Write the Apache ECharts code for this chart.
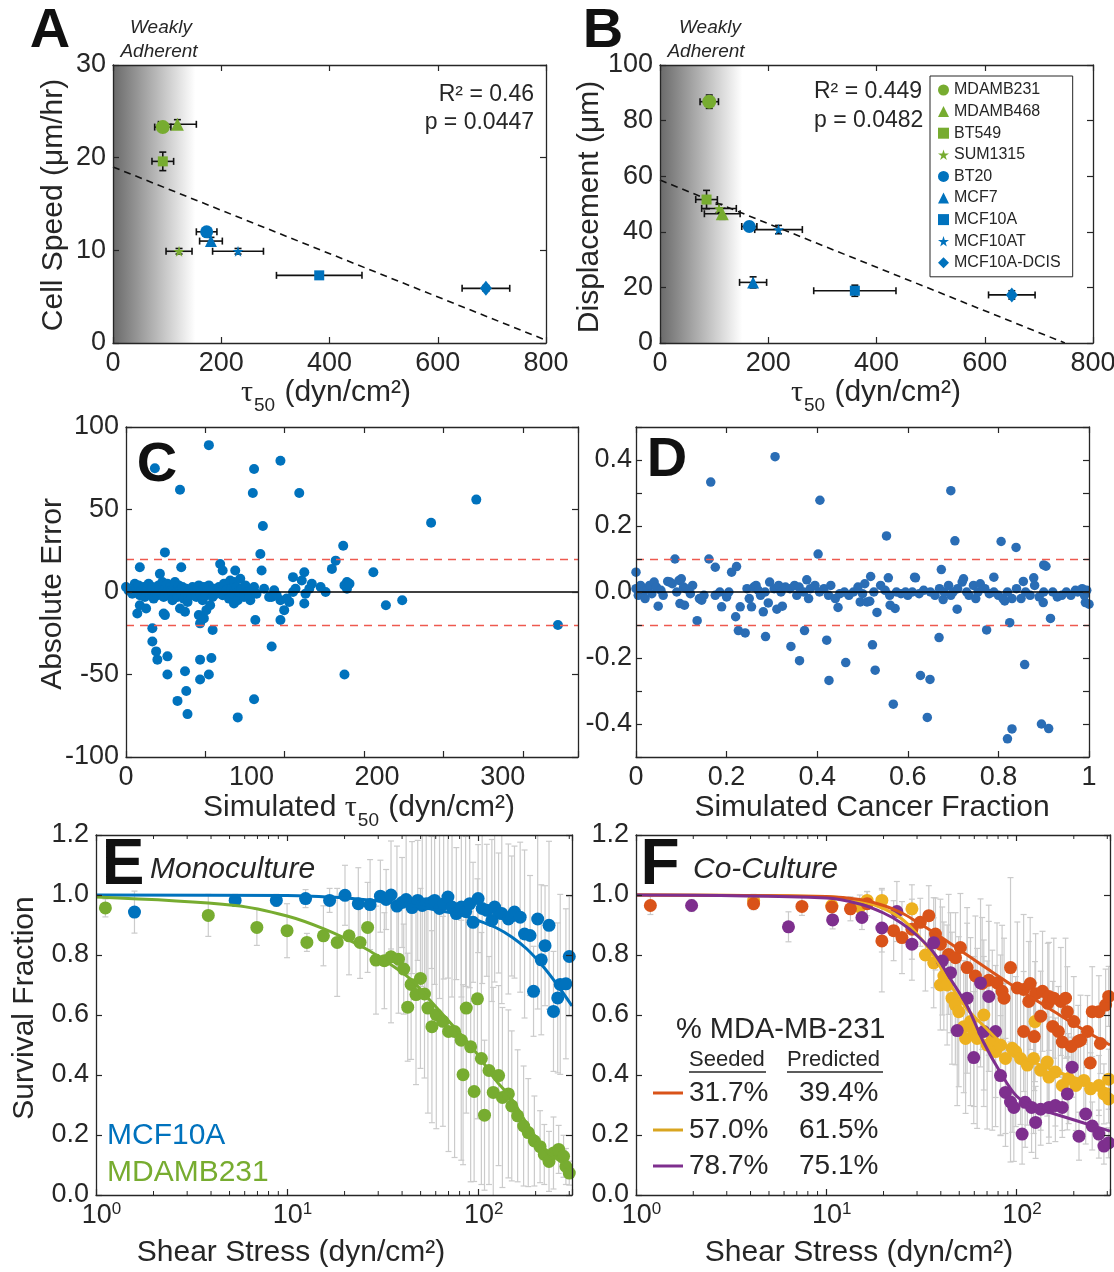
<!DOCTYPE html>
<html>
<head>
<meta charset="utf-8">
<script src="https://cdn.jsdelivr.net/npm/echarts@6/dist/echarts.min.js"></script>
<style>
  html, body { margin: 0; padding: 0; background: #fff; }
  #chart { width: 1114px; height: 1272px; }
</style>
</head>
<body>
<div id="chart"></div>
<script>
// ---------- Panels A / B: migration vs. adhesion strength per cell line ----------
const cellLines = ['MDAMB231', 'MDAMB468', 'BT549', 'SUM1315', 'BT20', 'MCF7', 'MCF10A', 'MCF10AT', 'MCF10A-DCIS'];
const tauA      = [92, 119, 92, 122, 173, 181, 381, 231, 689];
const tauErrA   = [15, 35, 20, 24, 19, 21, 79, 47, 44];
const speedA    = [23.3, 23.6, 19.6, 9.9, 12.0, 11.0, 7.3, 9.9, 5.9];
const speedErrA = [0.4, 0.5, 1.0, 0.3, 0.4, 0.4, 0.3, 0.3, 0.3];
const tauB      = [91, 115, 86, 109, 165, 172, 360, 219, 650];
const tauErrB   = [17, 33, 20, 32, 14, 25, 76, 44, 43];
const dispB     = [86.8, 46.5, 51.6, 48.4, 41.9, 21.8, 18.8, 40.8, 17.3];
const dispErrB  = [2.4, 2.0, 3.3, 1.5, 1.5, 2.0, 2.0, 1.5, 1.5];
const fitA = [[0, 19.0], [800, 0.3]];
const fitB = [[0, 58.6], [748, 0]];
const statsA = ['R\u00B2 = 0.46', 'p = 0.0447'];
const statsB = ['R\u00B2 = 0.449', 'p = 0.0482'];
const weakLimit = 152;   // upper edge of the weakly adherent band (dyn/cm2)

// ---------- Panel C: absolute error of simulated tau50 ----------
const cPoints = [
  [23,75],[66,89],[43,62],[102,74.5],[123,79.5],[101,60],[138,60],[109,40],[279,56],[243,42],
  [173,28],[31,24],[107,23],[167,19],[164,14],[108,13],[197,12],[11,15],[75,17],[77,13],
  [87,13],[44,15],[27,11],[159,0],[148,5],[142,12],[133,9],[176,6],[174,4],
  [344,-20],[174,-50],[207,-8],[220,-5],[142,-7],[126,-11],[123,-17],[103,-17],[116,-33],[102,-65],
  [89,-76],[69,-23],[68,-40],[66,-50],[59,-41],[59,-53],[48,-60],[49,-74],[41,-66],[47,-48],
  [33,-39],[33,-50],[25,-41],[24,-36],[21,-30],[21,-22],[31,-14],[30,-13],[9,-13],[16,-10],
  [11,-8],[43,-10],[47,-12],[58,-14],[59,-19],[62,-16],[64,-11],[86,-7],[99,-5],[116,-3],[123,-5],
  [0,3],[2,1],[5,-1],[7,5],[8,2],[10,4],[11,-2],[12,1],[14,3],[15,-3],
  [16,0],[17,2],[18,5],[19,-1],[20,1],[21,3],[22,-4],[23,0],[24,2],[25,-2],
  [26,4],[27,1],[28,-1],[29,6],[30,-3],[31,2],[32,0],[33,5],[34,-2],[35,3],
  [36,1],[37,-5],[38,2],[39,6],[40,0],[41,-3],[42,4],[43,1],[44,-1],[45,3],
  [46,-4],[47,0],[48,2],[49,-6],[50,1],
  [52,-2],[53,3],[55,0],[56,-3],[57,2],[58,4],[59,-1],[60,1],[61,-5],[62,3],
  [63,0],[64,-2],[65,2],[66,4],[67,-8],[68,1],[69,-3],[70,2],
  [72,-1],[74,3],[75,0],[77,-2],[78,5],[80,1],[82,-4],[83,7],[84,2],[85,-1],
  [86,6],[88,3],[89,-5],[90,0],[91,8],[92,2],[94,-3],[95,4],[97,0],[98,-2],[100,1],
  [102,3],[104,-1],[110,2],[114,-3],[118,1],[120,-2],[128,-4],[130,-6],[133,0],[135,2],
  [140,7],[143,-1],[146,2],[155,3],[176,2],[178,5]
];
const cBand = 20;

// ---------- Panel D: absolute error of simulated cancer fraction ----------
const dPoints = [
  [0.307,0.41],[0.165,0.333],[0.406,0.278],[0.695,0.307],[0.553,0.17],[0.704,0.155],[0.806,0.153],
  [0.839,0.135],[0.402,0.115],[0.161,0.10],[0.086,0.10],[0.175,0.075],[0.211,0.06],[0.222,0.077],
  [0.90,0.082],[0.905,0.078],[0.674,0.068],[0.0,0.06],[0.79,0.045],[0.878,0.043],[0.518,0.047],
  [0.557,0.043],[0.617,0.043],[0.377,0.037],[0.723,0.04],[0.855,0.032],[0.07,0.032],[0.1,0.04],
  [0.049,-0.043],[0.097,-0.035],[0.107,-0.04],[0.135,-0.087],[0.189,-0.045],[0.22,-0.075],[0.23,-0.045],
  [0.226,-0.117],[0.241,-0.124],[0.255,-0.045],[0.281,-0.06],[0.292,-0.033],[0.286,-0.135],[0.311,-0.052],
  [0.323,-0.043],[0.342,-0.165],[0.361,-0.208],[0.372,-0.117],[0.381,-0.02],[0.421,-0.146],[0.426,-0.268],
  [0.446,-0.047],[0.463,-0.214],[0.495,-0.03],[0.516,-0.028],[0.522,-0.16],[0.528,-0.237],[0.532,-0.062],
  [0.568,-0.34],[0.572,-0.05],[0.561,-0.04],[0.628,-0.253],[0.649,-0.265],[0.643,-0.38],[0.669,-0.138],
  [0.678,-0.023],[0.709,-0.052],[0.774,-0.115],[0.814,-0.027],[0.825,-0.093],[0.82,-0.445],[0.83,-0.415],
  [0.858,-0.22],[0.895,-0.40],[0.911,-0.414],[0.915,-0.08],[0.899,-0.032],[1.0,-0.037],[0.992,-0.032],
  [0.0,0.01],[0.005,-0.01],[0.01,0.02],[0.015,0.0],[0.02,-0.02],[0.025,0.01],[0.03,0.02],[0.035,-0.005],
  [0.04,0.03],[0.045,0.015],[0.055,0.005],[0.06,-0.01],[0.075,0.03],[0.08,0.025],[0.09,0.0],[0.095,0.035],
  [0.105,0.015],[0.11,0.01],[0.12,-0.005],[0.125,0.02],[0.14,-0.02],[0.145,-0.025],[0.15,-0.01],[0.175,-0.01],
  [0.185,0.0],[0.2,-0.015],[0.205,0.0],[0.245,0.01],[0.25,-0.02],[0.26,0.015],[0.265,0.02],[0.27,0.005],
  [0.275,-0.01],[0.285,0.0],[0.295,0.03],[0.305,0.01],[0.315,0.02],[0.32,0.0],[0.33,0.015],[0.34,0.01],
  [0.35,0.02],[0.355,-0.01],[0.36,0.015],[0.37,0.0],[0.385,0.01],[0.395,0.02],[0.405,0.0],[0.415,0.01],
  [0.425,-0.01],[0.43,0.02],[0.44,-0.02],[0.45,-0.005],[0.46,0.0],[0.47,-0.01],[0.48,0.0],[0.49,0.015],
  [0.5,-0.005],[0.505,0.025],[0.51,-0.03],[0.525,0.0],[0.54,0.02],[0.55,0.005],[0.56,-0.01],[0.575,0.0],
  [0.585,-0.005],[0.595,0.0],[0.6,-0.01],[0.61,0.0],[0.615,0.045],[0.625,-0.005],[0.635,0.005],[0.65,0.0],
  [0.66,-0.01],[0.67,0.01],[0.68,0.0],[0.69,0.02],[0.695,-0.01],[0.7,0.0],[0.71,0.01],[0.72,0.03],
  [0.73,0.0],[0.735,-0.01],[0.745,0.02],[0.75,-0.02],[0.755,0.0],[0.76,0.025],[0.77,0.01],[0.78,-0.005],
  [0.79,0.0],[0.8,-0.01],[0.81,-0.02],[0.82,0.0],[0.83,-0.02],[0.84,0.01],[0.85,-0.02],[0.86,0.0],
  [0.87,-0.01],[0.88,0.02],[0.89,-0.015],[0.9,0.0],[0.92,0.0],[0.93,-0.015],[0.94,-0.01],[0.95,0.0],
  [0.96,-0.01],[0.97,0.005],[0.975,0.0],[0.985,0.01],[0.99,-0.01],[0.995,0.005]
];
const dBand = 0.1;

// ---------- Panel E: monoculture survival [shear, fraction, sd] ----------
const eMcf10a = [
  [1.59,0.943,0.07],[5.35,0.982,0.02],[8.79,0.982,0.02],[12.5,0.988,0.03],[16.7,0.982,0.04],[20.1,0.999,0.1],
  [23.6,0.971,0.12],[27.2,0.968,0.15],[30.8,0.996,0.12],[33,0.985,0.1],[35,1.0,0.18],[37.6,0.963,0.2],
  [40,0.975,0.15],[42,0.985,0.25],[45.1,0.958,0.22],[48.3,0.982,0.2],[51,0.965,0.27],[53.5,0.971,0.3],
  [57,0.975,0.22],[59.2,0.982,0.28],[62.8,0.955,0.3],[66,0.97,0.25],[69.5,0.993,0.27],[73,0.96,0.3],
  [76.9,0.938,0.22],[81.7,0.96,0.3],[86,0.945,0.25],[90.4,0.971,0.28],[94.1,0.909,0.2],[100,0.988,0.18],
  [105,0.955,0.25],[111,0.949,0.22],[118,0.915,0.27],[122,0.96,0.25],[128,0.94,0.2],[133,0.938,0.3],
  [144,0.92,0.25],[150,0.93,0.2],[155,0.943,0.22],[166,0.926,0.25],[175,0.87,0.28],[187,0.865,0.2],
  [195,0.679,0.15],[205,0.92,0.3],[214,0.784,0.25],[224,0.831,0.2],[235,0.899,0.28],[248,0.612,0.2],
  [261,0.657,0.25],[269,0.702,0.3],[288,0.704,0.25],[300,0.795,0.2]
];
const eMdamb231 = [
  [1.12,0.957,0.03],[3.87,0.932,0.07],[6.95,0.892,0.06],[10,0.881,0.09],[12.7,0.842,0.03],[15.5,0.864,0.1],
  [18.3,0.842,0.18],[21.1,0.864,0.13],[24.1,0.842,0.12],[26.4,0.892,0.15],[29.2,0.783,0.18],[32.3,0.781,0.16],
  [35,0.794,0.22],[38.3,0.786,0.18],[40.8,0.753,0.15],[42.8,0.626,0.18],[44.6,0.702,0.25],[47.3,0.668,0.3],
  [49.9,0.722,0.3],[52.4,0.67,0.28],[54.6,0.623,0.35],[57.3,0.561,0.32],[60.4,0.601,0.38],[65.4,0.579,0.35],
  [70,0.545,0.4],[75.3,0.545,0.42],[81.6,0.516,0.4],[83.4,0.401,0.3],[86.7,0.623,0.35],[91.4,0.494,0.45],
  [95.3,0.345,0.3],[99.2,0.654,0.4],[104,0.455,0.42],[108,0.266,0.25],[114,0.415,0.38],[120,0.342,0.35],
  [128,0.398,0.3],[134,0.325,0.3],[144,0.337,0.28],[150,0.297,0.25],[161,0.264,0.22],[173,0.23,0.2],
  [183,0.208,0.18],[197,0.18,0.15],[211,0.161,0.12],[222,0.135,0.1],[235,0.112,0.1],[248,0.14,0.12],
  [264,0.152,0.08],[280,0.129,0.07],[288,0.095,0.06],[300,0.073,0.04]
];
const eMcf10aFit = [[1,1.0],[10,0.998],[20,0.99],[30,0.98],[45,0.965],[60,0.95],[80,0.935],[100,0.915],
  [125,0.89],[150,0.86],[180,0.82],[220,0.76],[260,0.7],[310,0.63]];
const eMdamb231Fit = [[1,0.993],[5.35,0.965],[10,0.93],[15.6,0.887],[24.3,0.83],[29.8,0.797],[44.6,0.718],
  [54.6,0.657],[66.8,0.595],[81.7,0.533],[100,0.466],[122,0.387],[150,0.32],[183,0.23],[224,0.152],
  [275,0.107],[310,0.08]];

// ---------- Panel F: co-culture survival [shear, fraction, sd] ----------
const fLow = [
  [1.19,0.965,0.03],[4.15,0.971,0.02],[7.45,0.962,0.03],[10.7,0.96,0.03],[13.4,0.954,0.04],[16.4,0.971,0.04],
  [19.6,0.847,0.17],[22.6,0.881,0.1],[25,0.858,0.12],[28.2,0.886,0.1],[31.2,0.909,0.08],[34.6,0.931,0.1],
  [37.5,0.87,0.12],[39.8,0.836,0.15],[44,0.802,0.2],[47.8,0.791,0.15],[50.7,0.825,0.18],[55,0.758,0.2],
  [60.8,0.73,0.2],[66,0.705,0.22],[71.5,0.716,0.25],[79,0.707,0.2],[84,0.679,0.22],[86,0.656,0.2],
  [93,0.758,0.3],[101,0.69,0.22],[109,0.685,0.25],[109,0.545,0.2],[116,0.645,0.2],[118,0.705,0.22],
  [124,0.528,0.18],[126,0.671,0.2],[134,0.596,0.15],[137,0.679,0.2],[146,0.639,0.2],[148,0.662,0.18],
  [155,0.562,0.15],[157,0.656,0.2],[166,0.545,0.15],[171,0.645,0.18],[174,0.51,0.15],[181,0.656,0.2],
  [185,0.611,0.15],[194,0.495,0.12],[200,0.578,0.15],[211,0.512,0.12],[217,0.516,0.15],[236,0.545,0.12],
  [244,0.44,0.1],[250,0.611,0.15],[271,0.611,0.12],[276,0.505,0.1],[294,0.633,0.12],[305,0.662,0.1]
];
const fMid = [
  [4.15,0.982,0.02],[10.7,0.965,0.03],[15,0.96,0.04],[16.4,0.982,0.03],[19.6,0.982,0.04],[28.2,0.954,0.08],
  [33.2,0.8,0.12],[36.7,0.774,0.15],[39.8,0.7,0.15],[41.5,0.73,0.18],[43.2,0.7,0.2],[45.8,0.656,0.22],
  [47.7,0.634,0.2],[49.7,0.611,0.25],[52.8,0.561,0.22],[54,0.522,0.25],[57.3,0.578,0.28],[59.7,0.545,0.25],
  [62.1,0.522,0.3],[67.3,0.6,0.25],[70.1,0.5,0.28],[74.6,0.516,0.3],[77.6,0.478,0.25],[82.4,0.5,0.3],
  [87.5,0.455,0.25],[94.9,0.489,0.28],[99,0.478,0.25],[105,0.455,0.22],[114,0.433,0.2],[123,0.455,0.25],
  [125,0.578,0.2],[134,0.416,0.2],[145,0.443,0.18],[148,0.393,0.2],[160,0.41,0.18],[174,0.365,0.15],
  [188,0.388,0.15],[205,0.365,0.15],[226,0.382,0.12],[245,0.354,0.12],[271,0.365,0.1],[288,0.337,0.1],
  [305,0.32,0.08],[305,0.386,0.1]
];
const fHigh = [
  [1.96,0.965,0.02],[6.33,0.894,0.05],[10.8,0.917,0.03],[15.4,0.925,0.04],[19.6,0.89,0.08],[23.5,0.945,0.1],
  [28.2,0.836,0.12],[36.7,0.841,0.15],[40.7,0.78,0.18],[45,0.741,0.2],[48.8,0.548,0.25],[55,0.656,0.25],
  [59.6,0.458,0.22],[64.7,0.707,0.28],[67.3,0.545,0.25],[71.5,0.662,0.25],[77.6,0.545,0.22],[82.4,0.398,0.2],
  [87.5,0.342,0.18],[93,0.31,0.2],[96.8,0.292,0.18],[107,0.203,0.1],[111,0.309,0.15],[120,0.292,0.15],
  [126,0.242,0.12],[134,0.286,0.12],[148,0.292,0.12],[160,0.298,0.12],[174,0.292,0.1],[185,0.337,0.12],
  [196,0.426,0.1],[213,0.196,0.08],[231,0.27,0.1],[250,0.23,0.08],[271,0.203,0.08],[288,0.163,0.06],
  [305,0.174,0.05]
];
const fLowFit  = [[1,1],[10,0.995],[15,0.985],[20,0.965],[25,0.94],[30,0.91],[40,0.86],[55,0.8],[70,0.755],
  [100,0.69],[150,0.62],[226,0.55],[310,0.5]];
const fMidFit  = [[1,1],[10,0.995],[15,0.98],[20,0.955],[25,0.92],[30,0.87],[36.5,0.8],[45,0.7],[55,0.62],
  [67,0.565],[82,0.51],[100,0.47],[150,0.42],[226,0.38],[310,0.35]];
const fHighFit = [[1,1],[10,0.99],[15,0.97],[20,0.94],[25,0.905],[30,0.865],[36.5,0.81],[45,0.72],[55,0.63],
  [67,0.51],[82,0.41],[100,0.33],[125,0.29],[150,0.275],[226,0.24],[310,0.213]];
const seededPct    = ['31.7%', '57.0%', '78.7%'];
const predictedPct = ['39.4%', '61.5%', '75.1%'];

// log-axis minor tick positions and extents
const logMinorTicks = [2,3,4,5,6,7,8,9,20,30,40,50,60,70,80,90,200,300];
const shearMax = 310;
const cTauMax = 360, cTickStep = 63.2;

// ---------- styling ----------
const FONT  = '"Liberation Sans", Arial, Helvetica, sans-serif';
const SERIF = '"Liberation Serif", "Times New Roman", serif';
const INK = '#262626';
const BLUE = '#0072BD', GREEN = '#77AC30', ORANGE = '#D95319', YELLOW = '#EDB120', PURPLE = '#7E2F8E';
const ERR_GRAY = '#cbcbcb';
const TICK_FS = 27, TITLE_FS = 30;
const lineColors = [GREEN, GREEN, GREEN, GREEN, BLUE, BLUE, BLUE, BLUE, BLUE];
const STAR = 'path://M50,0 L61,35 L98,35 L68,57 L79,91 L50,70 L21,91 L32,57 L2,35 L39,35 Z';
const lineSymbols = ['circle', 'triangle', 'rect', STAR, 'circle', 'triangle', 'rect', STAR, 'diamond'];
const lineSizes   = [14, 13, 10, 11, 13, 12, 10, 11, [12, 15]];

function isObj(o) { return o && typeof o === 'object' && !Array.isArray(o); }
function merge(a, b) {
  const out = Object.assign({}, a);
  for (const k in b) out[k] = isObj(a[k]) && isObj(b[k]) ? merge(a[k], b[k]) : b[k];
  return out;
}
function mkAxis(grid, position, extra) {
  const primary = position === 'bottom' || position === 'left';
  return merge({
    type: 'value', gridIndex: grid, position: position, z: 10,
    axisLine: { show: true, onZero: false, lineStyle: { color: INK, width: 1.3 } },
    axisTick: { show: true, inside: true, length: 6, lineStyle: { color: INK, width: 1.2 } },
    axisLabel: { show: primary, color: INK, fontFamily: FONT, fontSize: TICK_FS, margin: 7 },
    splitLine: { show: false }
  }, extra || {});
}
const oneDecimal = v => (Math.round(v * 10) / 10).toFixed(1);
const dFmt = v => { const k = Math.round(v * 10); return (k % 2 === 0 && Math.abs(k) < 5) ? oneDecimal(v) : ''; };
const logFmt = v => {
  const e = Math.round(Math.log10(v));
  return Math.abs(Math.log10(v) - e) < 1e-6 ? '{b|10}{e|' + e + '}' : '';
};
const logX = {
  type: 'log', logBase: 10, min: 1, max: shearMax,
  axisLabel: {
    formatter: logFmt, margin: 6,
    rich: {
      b: { fontFamily: FONT, fontSize: TICK_FS, color: INK, lineHeight: 30, padding: [0, 0, 0, 11] },
      e: { fontFamily: FONT, fontSize: 17, color: INK, padding: [0, 0, 13, 0] }
    }
  }
};

const grid = [
  { left: 113, top: 65,  width: 433, height: 278 },  // A
  { left: 660, top: 65,  width: 433, height: 278 },  // B
  { left: 126, top: 427, width: 452, height: 330 },  // C
  { left: 636, top: 427, width: 453, height: 330 },  // D
  { left: 96,  top: 835, width: 476, height: 360 },  // E
  { left: 636, top: 835, width: 474, height: 360 }   // F
].map(g => Object.assign({ containLabel: false, outerBoundsMode: 'none' }, g));

const xAxis = [
  mkAxis(0, 'bottom', { min: 0, max: 800, interval: 200 }),
  mkAxis(0, 'top',    { min: 0, max: 800, interval: 200 }),
  mkAxis(1, 'bottom', { min: 0, max: 800, interval: 200 }),
  mkAxis(1, 'top',    { min: 0, max: 800, interval: 200 }),
  mkAxis(2, 'bottom', { min: 0, max: cTauMax, interval: 100, axisTick: { show: false },
    axisLabel: { formatter: v => (Math.abs(v % 100) < 1e-9 ? String(v) : '') } }),
  mkAxis(2, 'top',    { min: 0, max: cTauMax, interval: cTickStep }),
  mkAxis(2, 'bottom', { min: 0, max: cTauMax, interval: cTickStep, axisLine: { show: false }, axisLabel: { show: false } }),
  mkAxis(3, 'bottom', { min: 0, max: 1, interval: 0.2 }),
  mkAxis(3, 'top',    { min: 0, max: 1, interval: 0.2 }),
  mkAxis(4, 'bottom', logX),
  mkAxis(4, 'top',    logX),
  mkAxis(5, 'bottom', logX),
  mkAxis(5, 'top',    logX)
];
const survY = { min: 0, max: 1.2, interval: 0.2, axisLabel: { formatter: oneDecimal } };
const yAxis = [
  mkAxis(0, 'left',  { min: 0, max: 30, interval: 10 }),
  mkAxis(0, 'right', { min: 0, max: 30, interval: 10 }),
  mkAxis(1, 'left',  { min: 0, max: 100, interval: 20 }),
  mkAxis(1, 'right', { min: 0, max: 100, interval: 20 }),
  mkAxis(2, 'left',  { min: -100, max: 100, interval: 50 }),
  mkAxis(2, 'right', { min: -100, max: 100, interval: 50 }),
  mkAxis(3, 'left',  { min: -0.5, max: 0.5, interval: 0.1, axisLabel: { formatter: dFmt, margin: 4 } }),
  mkAxis(3, 'right', { min: -0.5, max: 0.5, interval: 0.1 }),
  mkAxis(4, 'left',  survY),
  mkAxis(4, 'right', survY),
  mkAxis(5, 'left',  survY),
  mkAxis(5, 'right', survY)
];

// ---------- render helpers ----------
function xyErrRender(params, api) {
  const x = api.value(0), y = api.value(1), ex = api.value(2), ey = api.value(3);
  const l = api.coord([x - ex, y]), r = api.coord([x + ex, y]);
  const b = api.coord([x, y - ey]), t = api.coord([x, y + ey]);
  const c = 3.5, st = { stroke: '#111', lineWidth: 1.6 };
  const seg = (x1, y1, x2, y2) => ({ type: 'line', shape: { x1, y1, x2, y2 }, style: st });
  return { type: 'group', children: [
    seg(l[0], l[1], r[0], r[1]), seg(l[0], l[1] - c, l[0], l[1] + c), seg(r[0], r[1] - c, r[0], r[1] + c),
    seg(b[0], b[1], t[0], t[1]), seg(b[0] - c, b[1], b[0] + c, b[1]), seg(t[0] - c, t[1], t[0] + c, t[1])
  ] };
}
function yErrRender(params, api) {
  const x = api.value(0), y = api.value(1), s = api.value(2);
  const lo = api.coord([x, y - s]), hi = api.coord([x, y + s]);
  const c = 3, st = { stroke: ERR_GRAY, lineWidth: 1.2 };
  return { type: 'group', children: [
    { type: 'line', shape: { x1: lo[0], y1: lo[1], x2: hi[0], y2: hi[1] }, style: st },
    { type: 'line', shape: { x1: lo[0] - c, y1: lo[1], x2: lo[0] + c, y2: lo[1] }, style: st },
    { type: 'line', shape: { x1: hi[0] - c, y1: hi[1], x2: hi[0] + c, y2: hi[1] }, style: st }
  ] };
}
function minorTickRender(params, api) {
  const v = api.value(0);
  const b = api.coord([v, 0]), t = api.coord([v, 1.2]);
  const st = { stroke: INK, lineWidth: 1 };
  return { type: 'group', children: [
    { type: 'line', shape: { x1: b[0], y1: b[1], x2: b[0], y2: b[1] - 4 }, style: st },
    { type: 'line', shape: { x1: t[0], y1: t[1], x2: t[0], y2: t[1] + 4 }, style: st }
  ] };
}

const series = [];
const weakBand = {
  silent: true,
  itemStyle: { color: new echarts.graphic.LinearGradient(0, 0, 1, 0, [
    { offset: 0, color: '#6a6a6a' }, { offset: 0.5, color: '#b4b4b4' }, { offset: 1, color: '#ffffff' }]) },
  data: [[{ xAxis: 0 }, { xAxis: weakLimit }]]
};
// A and B share the same structure
[[0, 0, tauA, tauErrA, speedA, speedErrA, fitA], [2, 2, tauB, tauErrB, dispB, dispErrB, fitB]].forEach(p => {
  const [xi, yi, xs, xe, ys, ye, fit] = p;
  series.push({ type: 'line', name: 'fit', xAxisIndex: xi, yAxisIndex: yi, data: fit, symbol: 'none', z: 2,
    lineStyle: { color: '#111', width: 1.6, type: [7, 5] }, markArea: weakBand });
  series.push({ type: 'custom', name: 'err', xAxisIndex: xi, yAxisIndex: yi, z: 3, renderItem: xyErrRender,
    encode: { x: 0, y: 1 }, data: cellLines.map((_, i) => [xs[i], ys[i], xe[i], ye[i]]) });
  cellLines.forEach((name, i) => series.push({
    type: 'scatter', name, xAxisIndex: xi, yAxisIndex: yi, z: 4,
    symbol: lineSymbols[i], symbolSize: lineSizes[i], itemStyle: { color: lineColors[i], opacity: 1 },
    data: [[xs[i], ys[i]]]
  }));
});

const refLines = (band) => ({
  silent: true, symbol: ['none', 'none'], label: { show: false }, animation: false,
  data: [
    { yAxis: 0, lineStyle: { color: '#000', type: 'solid', width: 1.5 } },
    { yAxis: band, lineStyle: { color: '#EE5A4F', type: [8, 6], width: 1.3 } },
    { yAxis: -band, lineStyle: { color: '#EE5A4F', type: [8, 6], width: 1.3 } }
  ]
});
series.push({ type: 'line', name: 'c-ref', xAxisIndex: 4, yAxisIndex: 4, data: [], z: 2, markLine: refLines(cBand) });
series.push({ type: 'scatter', name: 'c-sim', xAxisIndex: 4, yAxisIndex: 4, data: cPoints, symbolSize: 10, z: 3,
  itemStyle: { color: BLUE, opacity: 1 } });
series.push({ type: 'line', name: 'd-ref', xAxisIndex: 7, yAxisIndex: 6, data: [], z: 2, markLine: refLines(dBand) });
series.push({ type: 'scatter', name: 'd-sim', xAxisIndex: 7, yAxisIndex: 6, data: dPoints, symbolSize: 9.5, z: 3,
  itemStyle: { color: '#2a6db5', opacity: 1 } });

// E and F survival panels
function survivalPanel(xi, yi, groups) {
  groups.forEach(g => series.push({ type: 'custom', name: g.name + '-sd', xAxisIndex: xi, yAxisIndex: yi, z: 2,
    clip: true, renderItem: yErrRender, encode: { x: 0, y: 1 }, data: g.pts }));
  groups.forEach(g => series.push({ type: 'scatter', name: g.name, xAxisIndex: xi, yAxisIndex: yi, z: 3,
    symbolSize: 13, itemStyle: { color: g.color, opacity: 1 }, data: g.pts.map(p => [p[0], p[1]]) }));
  groups.forEach(g => series.push({ type: 'line', name: g.name + '-fit', xAxisIndex: xi, yAxisIndex: yi, z: 4,
    smooth: 0.35, symbol: 'none', lineStyle: { color: g.color, width: 3 }, data: g.fit }));
  series.push({ type: 'custom', name: 'minor', xAxisIndex: xi, yAxisIndex: yi, z: 11, silent: true, clip: false,
    renderItem: minorTickRender, encode: { x: 0, y: 1 }, data: logMinorTicks.map(v => [v, 0]) });
}
survivalPanel(9, 8, [
  { name: 'MCF10A', color: BLUE, pts: eMcf10a, fit: eMcf10aFit },
  { name: 'MDAMB231 mono', color: GREEN, pts: eMdamb231, fit: eMdamb231Fit }
]);
survivalPanel(11, 10, [
  { name: 'mid', color: YELLOW, pts: fMid, fit: fMidFit },
  { name: 'low', color: ORANGE, pts: fLow, fit: fLowFit },
  { name: 'high', color: PURPLE, pts: fHigh, fit: fHighFit }
]);

// ---------- text ----------
const txt = (text, x, y, size, extra) => ({ type: 'text', x, y, z: 20,
  style: Object.assign({ text, fill: INK, fontFamily: FONT, fontSize: size, align: 'left', verticalAlign: 'middle' }, extra || {}) });
const letter = (t, x, y, size) => txt(t, x, y, size, { fill: '#111', fontWeight: 'bold', align: 'center' });
const vTitle = (t, x, y) => Object.assign(txt(t, x, y, TITLE_FS, { align: 'center' }), { rotation: Math.PI / 2 });
const tauRich = {
  t: { fontFamily: SERIF, fontSize: TITLE_FS, fill: INK, lineHeight: 34, verticalAlign: 'middle' },
  s: { fontFamily: FONT, fontSize: 19, fill: INK, padding: [26, 1, 0, 1], verticalAlign: 'middle' },
  n: { fontFamily: FONT, fontSize: TITLE_FS, fill: INK, lineHeight: 34, verticalAlign: 'middle' }
};
const tauTitle = (prefix, x, y) => txt((prefix ? '{n|' + prefix + '}' : '') + '{t|\u03C4}{s|50}{n| (dyn/cm\u00B2)}', x, y, TITLE_FS,
  { align: 'center', rich: tauRich });

const graphic = [
  letter('A', 50, 32, 56), letter('B', 603, 32, 56),
  letter('C', 157, 466, 56), letter('D', 667, 461, 56),
  letter('E', 123, 866, 64), letter('F', 660, 866, 64),
  txt('Weakly', 161, 28, 19, { align: 'center', fontStyle: 'italic' }),
  txt('Adherent', 159, 52, 19, { align: 'center', fontStyle: 'italic' }),
  txt('Weakly', 710, 28, 19, { align: 'center', fontStyle: 'italic' }),
  txt('Adherent', 706, 52, 19, { align: 'center', fontStyle: 'italic' }),
  txt(statsA[0], 534, 95, 23, { align: 'right' }), txt(statsA[1], 534, 123, 23, { align: 'right' }),
  txt(statsB[0], 814, 92, 23), txt(statsB[1], 814, 121, 23),
  vTitle('Cell Speed (\u03BCm/hr)', 54, 205),
  vTitle('Displacement (\u03BCm)', 590, 207),
  vTitle('Absolute Error', 53, 594),
  vTitle('Survival Fraction', 25, 1008),
  tauTitle('', 326, 393), tauTitle('', 876, 393),
  tauTitle('Simulated ', 359, 808),
  txt('Simulated Cancer Fraction', 872, 808, TITLE_FS, { align: 'center' }),
  txt('Shear Stress (dyn/cm\u00B2)', 291, 1253, TITLE_FS, { align: 'center' }),
  txt('Shear Stress (dyn/cm\u00B2)', 859, 1253, TITLE_FS, { align: 'center' }),
  txt('Monoculture', 150, 870, 30, { fontStyle: 'italic' }),
  txt('Co-Culture', 693, 870, 30, { fontStyle: 'italic' }),
  txt('MCF10A', 107, 1136, 30, { fill: BLUE }),
  txt('MDAMB231', 107, 1173, 30, { fill: GREEN }),
  txt('% MDA-MB-231', 676, 1030, 29),
  txt('Seeded', 689, 1060, 22), txt('Predicted', 787, 1060, 22),
  { type: 'line', z: 20, shape: { x1: 689, y1: 1072, x2: 766, y2: 1072 }, style: { stroke: INK, lineWidth: 1.4 } },
  { type: 'line', z: 20, shape: { x1: 787, y1: 1072, x2: 883, y2: 1072 }, style: { stroke: INK, lineWidth: 1.4 } }
];
const rowY = [1093, 1130, 1166];
const rowColors = [ORANGE, '#D9A520', PURPLE];
rowY.forEach((y, i) => {
  graphic.push({ type: 'line', z: 20, shape: { x1: 653, y1: y, x2: 683, y2: y }, style: { stroke: rowColors[i], lineWidth: 3 } });
  graphic.push(txt(seededPct[i], 689, y, 28));
  graphic.push(txt(predictedPct[i], 799, y, 28));
});

const chart = echarts.init(document.getElementById('chart'), null, { renderer: 'canvas' });
chart.setOption({
  backgroundColor: '#ffffff',
  animation: false,
  textStyle: { fontFamily: FONT },
  grid, xAxis, yAxis, series, graphic,
  legend: {
    data: cellLines, orient: 'vertical', left: 930, top: 76, padding: [6, 12, 6, 8],
    itemGap: 5.6, itemWidth: 11, itemHeight: 11, selectedMode: false,
    backgroundColor: '#ffffff', borderColor: INK, borderWidth: 1, borderRadius: 0, z: 30,
    textStyle: { fontFamily: FONT, fontSize: 16, color: INK, lineHeight: 15 }
  }
});
</script>
</body>
</html>
